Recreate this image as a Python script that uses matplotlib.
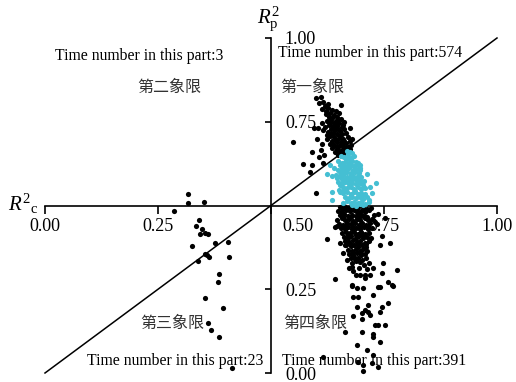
import matplotlib
matplotlib.use('Agg')
import matplotlib.pyplot as plt
from matplotlib.transforms import ScaledTranslation

# ---------------- data ----------------
x_ticks = [0.00, 0.25, 0.50, 0.75, 1.00]
x_tick_labels = ['0.00', '0.25', '0.50', '0.75', '1.00']
y_ticks = [0.00, 0.25, 0.75, 1.00]
y_tick_labels = ['0.00', '0.25', '0.75', '1.00']

# quadrant II points (black)
q2_pts = [(0.316, 0.534), (0.316, 0.507), (0.352, 0.510)]

# quadrant III points (black)
q3_pts = [
    (0.285, 0.484), (0.341, 0.457), (0.334, 0.439), (0.347, 0.430), (0.343, 0.415),
    (0.354, 0.418), (0.361, 0.415), (0.325, 0.379), (0.376, 0.388), (0.405, 0.391),
    (0.354, 0.355), (0.358, 0.352), (0.363, 0.346), (0.338, 0.334), (0.407, 0.346),
    (0.385, 0.296), (0.383, 0.272), (0.354, 0.224), (0.394, 0.194), (0.361, 0.149),
    (0.367, 0.128), (0.385, 0.107), (0.414, 0.015),
]

# quadrant I points above the diagonal (black)
q1_black_pts = [
    (0.600, 0.821), (0.611, 0.824), (0.615, 0.810), (0.606, 0.806), (0.619, 0.797), (0.655, 0.800),
    (0.626, 0.790), (0.635, 0.786), (0.644, 0.782), (0.630, 0.777), (0.621, 0.772), (0.640, 0.770),
    (0.650, 0.775), (0.628, 0.764), (0.636, 0.760), (0.646, 0.763), (0.655, 0.758), (0.624, 0.753),
    (0.633, 0.750), (0.642, 0.748), (0.651, 0.746), (0.661, 0.750), (0.629, 0.741), (0.638, 0.738),
    (0.647, 0.736), (0.656, 0.734), (0.620, 0.733), (0.633, 0.728), (0.642, 0.725), (0.652, 0.723),
    (0.662, 0.727), (0.627, 0.720), (0.637, 0.716), (0.646, 0.713), (0.657, 0.712), (0.667, 0.716),
    (0.631, 0.706), (0.640, 0.703), (0.650, 0.701), (0.660, 0.699), (0.670, 0.703), (0.624, 0.699),
    (0.635, 0.694), (0.645, 0.691), (0.655, 0.689), (0.665, 0.688), (0.674, 0.692), (0.630, 0.685),
    (0.640, 0.681), (0.650, 0.679), (0.660, 0.677), (0.670, 0.676), (0.678, 0.680), (0.636, 0.672),
    (0.646, 0.669), (0.656, 0.667), (0.666, 0.665), (0.675, 0.668), (0.642, 0.660), (0.652, 0.657),
    (0.662, 0.656), (0.671, 0.660), (0.658, 0.648), (0.648, 0.650),
    (0.638, 0.731), (0.648, 0.729), (0.633, 0.712), (0.653, 0.707), (0.643, 0.697), (0.661, 0.694),
    (0.636, 0.688), (0.656, 0.684), (0.645, 0.676), (0.665, 0.672), (0.651, 0.664), (0.641, 0.742),
    (0.659, 0.741), (0.646, 0.754), (0.632, 0.758), (0.622, 0.781), (0.613, 0.788), (0.627, 0.804),
    (0.612, 0.746), (0.616, 0.725), (0.623, 0.711),
    (0.549, 0.690), (0.571, 0.624), (0.591, 0.621), (0.586, 0.600), (0.606, 0.645), (0.613, 0.684),
    (0.615, 0.627), (0.600, 0.537), (0.611, 0.666), (0.602, 0.700), (0.604, 0.731), (0.617, 0.652),
    (0.590, 0.660), (0.596, 0.730), (0.674, 0.730), (0.680, 0.700),
]

# quadrant I points below the diagonal (cyan)
q1_cyan_pts = [
    (0.668, 0.662), (0.675, 0.660), (0.671, 0.654), (0.680, 0.657),
    (0.655, 0.647), (0.662, 0.644), (0.670, 0.646), (0.677, 0.642), (0.684, 0.648), (0.666, 0.638),
    (0.648, 0.632), (0.656, 0.628), (0.664, 0.631), (0.672, 0.627), (0.680, 0.633), (0.688, 0.629),
    (0.660, 0.620), (0.668, 0.618), (0.676, 0.621), (0.684, 0.617), (0.652, 0.622),
    (0.640, 0.611), (0.648, 0.606), (0.657, 0.612), (0.665, 0.607), (0.673, 0.611), (0.681, 0.606),
    (0.689, 0.610), (0.696, 0.605), (0.653, 0.600), (0.661, 0.598), (0.669, 0.601), (0.677, 0.597),
    (0.685, 0.600), (0.631, 0.621), (0.697, 0.621), (0.692, 0.628),
    (0.644, 0.592), (0.652, 0.588), (0.660, 0.591), (0.668, 0.586), (0.676, 0.590), (0.684, 0.585),
    (0.692, 0.589), (0.700, 0.584), (0.656, 0.580), (0.664, 0.578), (0.672, 0.581), (0.680, 0.576),
    (0.688, 0.579), (0.696, 0.575), (0.624, 0.594), (0.635, 0.588), (0.646, 0.582), (0.712, 0.594),
    (0.732, 0.567), (0.719, 0.555),
    (0.648, 0.570), (0.656, 0.566), (0.664, 0.569), (0.672, 0.564), (0.680, 0.568), (0.688, 0.563),
    (0.696, 0.566), (0.704, 0.561), (0.660, 0.556), (0.668, 0.552), (0.676, 0.555), (0.684, 0.550),
    (0.692, 0.554), (0.700, 0.549), (0.708, 0.553), (0.653, 0.561), (0.651, 0.547),
    (0.652, 0.541), (0.660, 0.537), (0.668, 0.540), (0.676, 0.535), (0.684, 0.539), (0.692, 0.534),
    (0.700, 0.538), (0.708, 0.533), (0.664, 0.526), (0.672, 0.522), (0.680, 0.525), (0.688, 0.521),
    (0.696, 0.524), (0.704, 0.520), (0.712, 0.526), (0.635, 0.540), (0.723, 0.537), (0.635, 0.516),
    (0.668, 0.512), (0.676, 0.508), (0.684, 0.511), (0.692, 0.506), (0.700, 0.510), (0.708, 0.505),
    (0.716, 0.509), (0.680, 0.502), (0.688, 0.500), (0.696, 0.503), (0.704, 0.501), (0.660, 0.506),
    (0.717, 0.516), (0.697, 0.612), (0.692, 0.621),
    (0.664, 0.612), (0.680, 0.590), (0.670, 0.570), (0.686, 0.544), (0.702, 0.528), (0.676, 0.530),
    (0.690, 0.574), (0.660, 0.603), (0.674, 0.636), (0.694, 0.597), (0.706, 0.572), (0.662, 0.546),
]

# quadrant IV points (black)
q4_pts = [
    (0.652, 0.496), (0.661, 0.499), (0.669, 0.494), (0.678, 0.497), (0.686, 0.493), (0.695, 0.498),
    (0.703, 0.495), (0.712, 0.491), (0.722, 0.494),
    (0.648, 0.484), (0.657, 0.481), (0.665, 0.487), (0.674, 0.483), (0.683, 0.486), (0.691, 0.480),
    (0.699, 0.485), (0.708, 0.482), (0.716, 0.486),
    (0.653, 0.471), (0.661, 0.474), (0.670, 0.468), (0.679, 0.473), (0.687, 0.469), (0.696, 0.474),
    (0.704, 0.470), (0.713, 0.467), (0.727, 0.472),
    (0.647, 0.458), (0.656, 0.462), (0.664, 0.456), (0.673, 0.460), (0.681, 0.455), (0.690, 0.461),
    (0.698, 0.457), (0.707, 0.462), (0.715, 0.456), (0.724, 0.459),
    (0.651, 0.446), (0.660, 0.443), (0.668, 0.449), (0.677, 0.444), (0.686, 0.448), (0.694, 0.442),
    (0.702, 0.447), (0.711, 0.443), (0.720, 0.448), (0.735, 0.445),
    (0.654, 0.433), (0.663, 0.430), (0.671, 0.435), (0.680, 0.429), (0.689, 0.434), (0.697, 0.431),
    (0.706, 0.436), (0.714, 0.430), (0.723, 0.433),
    (0.658, 0.419), (0.666, 0.422), (0.675, 0.417), (0.683, 0.421), (0.692, 0.416), (0.700, 0.420),
    (0.709, 0.415), (0.717, 0.419),
    (0.661, 0.407), (0.670, 0.404), (0.678, 0.409), (0.687, 0.403), (0.695, 0.408), (0.704, 0.402),
    (0.712, 0.406), (0.722, 0.404),
    (0.664, 0.394), (0.673, 0.391), (0.681, 0.396), (0.690, 0.390), (0.698, 0.395), (0.707, 0.389),
    (0.716, 0.393),
    (0.667, 0.381), (0.676, 0.378), (0.684, 0.383), (0.693, 0.377), (0.701, 0.382), (0.710, 0.376),
    (0.670, 0.368), (0.679, 0.365), (0.687, 0.370), (0.696, 0.364), (0.704, 0.369), (0.713, 0.363),
    (0.673, 0.355), (0.682, 0.352), (0.690, 0.357), (0.699, 0.351), (0.708, 0.356),
    (0.676, 0.343), (0.685, 0.339), (0.693, 0.344), (0.702, 0.338), (0.711, 0.342), (0.668, 0.336),
    (0.679, 0.328), (0.697, 0.330), (0.705, 0.323), (0.716, 0.327),
    (0.673, 0.312), (0.694, 0.314), (0.712, 0.311),
    (0.689, 0.293), (0.709, 0.294),
    (0.656, 0.490), (0.673, 0.490), (0.690, 0.489), (0.707, 0.488), (0.660, 0.466), (0.677, 0.465),
    (0.694, 0.466), (0.711, 0.465), (0.664, 0.438), (0.681, 0.437), (0.698, 0.438), (0.715, 0.439),
    (0.670, 0.412), (0.687, 0.411), (0.704, 0.412), (0.676, 0.386), (0.693, 0.385), (0.710, 0.386),
    (0.682, 0.360), (0.699, 0.359), (0.688, 0.334),
    (0.659, 0.358), (0.624, 0.400), (0.646, 0.439), (0.642, 0.436), (0.653, 0.388), (0.664, 0.382),
    (0.763, 0.388), (0.746, 0.409), (0.737, 0.475), (0.752, 0.463), (0.730, 0.451), (0.741, 0.381),
    (0.679, 0.316), (0.681, 0.304), (0.679, 0.260), (0.681, 0.227), (0.692, 0.227), (0.726, 0.233),
    (0.741, 0.257), (0.759, 0.272), (0.770, 0.260), (0.779, 0.307), (0.746, 0.299), (0.748, 0.328),
    (0.690, 0.254), (0.704, 0.254), (0.690, 0.197), (0.715, 0.203), (0.708, 0.188), (0.746, 0.197),
    (0.759, 0.209), (0.697, 0.293), (0.708, 0.284), (0.719, 0.293), (0.726, 0.313), (0.686, 0.343),
    (0.642, 0.281), (0.681, 0.170), (0.701, 0.179), (0.715, 0.182), (0.719, 0.173), (0.741, 0.182),
    (0.701, 0.161), (0.730, 0.143), (0.737, 0.143), (0.752, 0.143), (0.701, 0.122), (0.726, 0.116),
    (0.726, 0.107), (0.664, 0.122), (0.741, 0.093), (0.690, 0.084), (0.712, 0.069), (0.726, 0.054),
    (0.704, 0.024), (0.704, 0.006), (0.737, 0.018), (0.615, 0.048), (0.692, 0.033), (0.723, 0.030),
    (0.768, 0.263), (0.679, 0.263), (0.737, 0.257),
]

count_labels = ['Time number in this part:3', 'Time number in this part:574',
                'Time number in this part:23', 'Time number in this part:391']
quadrant_names = ['第二象限', '第一象限', '第三象限', '第四象限']

# ---------------- figure ----------------
plt.rcParams['font.family'] = ['Liberation Serif', 'Noto Sans CJK SC']
plt.rcParams['mathtext.fontset'] = 'custom'
plt.rcParams['mathtext.rm'] = 'Liberation Serif'
plt.rcParams['mathtext.it'] = 'Liberation Serif:italic'

fig = plt.figure(figsize=(5.16, 3.82), dpi=100)
fig.patch.set_facecolor('white')
ax = fig.add_axes([45 / 516, 9 / 382, 452 / 516, 335 / 382])
ax.set_xlim(0, 1)
ax.set_ylim(0, 1)
ax.patch.set_visible(False)

ax.spines['top'].set_visible(False)
ax.spines['left'].set_position(('data', 0.5))
ax.spines['bottom'].set_position(('data', 0.5))
ax.spines['right'].set_position(('data', 0.5))
ax.spines['right'].set_visible(False)
for s in ['left', 'bottom']:
    ax.spines[s].set_linewidth(1.2)

ax.set_xticks(x_ticks)
ax.set_xticklabels(x_tick_labels, fontsize=13)
ax.set_yticks(y_ticks)
ax.set_yticklabels(y_tick_labels, fontsize=13)
ax.tick_params(axis='x', direction='out', length=6, width=1.2, pad=3)
ax.tick_params(axis='y', direction='out', length=4, width=1.2, pad=6,
               left=True, right=False, labelleft=False, labelright=True)

# shift the 0.50 x label right so it clears the vertical axis
t = ax.xaxis.get_major_ticks()[2]
t.label1.set_transform(t.label1.get_transform() + ScaledTranslation(27 / 100, 0, fig.dpi_scale_trans))

# diagonal
ax.plot([0, 1], [0, 1], color='black', lw=1.1, zorder=2, clip_on=False)

def sc(pts, color):
    ax.scatter([p[0] for p in pts], [p[1] for p in pts], s=14, c=color,
               linewidths=0, zorder=4, clip_on=False)

sc(q2_pts, 'black')
sc(q3_pts, 'black')
sc(q1_black_pts, 'black')
sc(q4_pts, 'black')
sc(q1_cyan_pts, '#45bfd3')

# axis labels
ax.annotate(r'$R^{2}{}_{\mathrm{c}}$', xy=(0, 0.5), xytext=(-27, 1), textcoords='offset points',
            ha='left', va='center', fontsize=15, annotation_clip=False)
ax.annotate(r'$R^{2}_{\mathrm{p}}$', xy=(0.5, 1.0), xytext=(-2, 14), textcoords='offset points',
            ha='center', va='center', fontsize=15, annotation_clip=False)

# quadrant texts
fs = 11.3
ax.text(0.022, 0.934, count_labels[0], fontsize=fs, ha='left', va='baseline', zorder=3)
ax.text(0.515, 0.943, count_labels[1], fontsize=fs, ha='left', va='baseline', zorder=3)
ax.text(0.093, 0.024, count_labels[2], fontsize=fs, ha='left', va='baseline', zorder=3)
ax.text(0.524, 0.024, count_labels[3], fontsize=fs, ha='left', va='baseline', zorder=3)

cfs = 11.5
ax.text(0.204, 0.851, quadrant_names[0], fontsize=cfs, ha='left', va='center', color='#333333')
ax.text(0.520, 0.851, quadrant_names[1], fontsize=cfs, ha='left', va='center', color='#333333')
ax.text(0.210, 0.146, quadrant_names[2], fontsize=cfs, ha='left', va='center', color='#333333')
ax.text(0.527, 0.146, quadrant_names[3], fontsize=cfs, ha='left', va='center', color='#333333')

fig.savefig('out.png', dpi=100, facecolor='white')
